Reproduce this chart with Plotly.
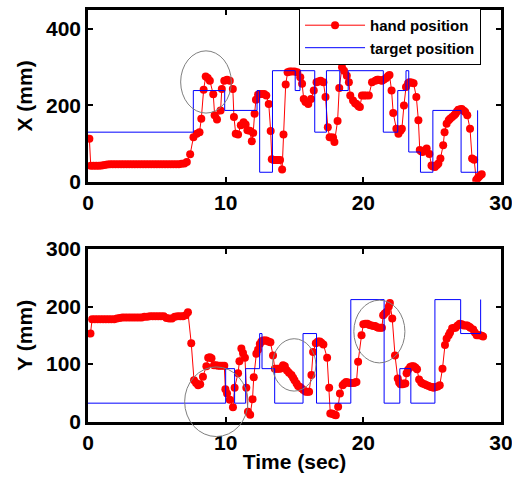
import plotly.graph_objects as go

# ---------------- data ----------------
hand_t_x = [0.1, 0.2, 0.4, 0.6, 0.8, 1.0, 1.2, 1.4, 1.6, 1.8, 2.0, 2.2, 2.4, 2.6, 2.8, 3.0, 3.2, 3.4, 3.6, 3.8,
            4.0, 4.2, 4.4, 4.6, 4.8, 5.0, 5.2, 5.4, 5.6, 5.8, 6.0, 6.2, 6.4, 6.6, 6.8, 7.0, 7.18, 7.42, 7.66, 7.9,
            8.1, 8.23, 8.4, 8.55, 8.7, 8.85, 9.1, 9.2, 9.37, 9.63, 9.72, 9.9, 10.1, 10.3, 10.52, 10.6, 10.73, 10.9, 11.1, 11.3,
            11.45, 11.58, 11.75, 11.9, 12.0, 12.1, 12.2, 12.35, 12.5, 12.65, 12.8, 12.95, 13.13, 13.27, 13.35, 13.5, 13.65, 13.8, 13.95, 14.1,
            14.2, 14.36, 14.5, 14.65, 14.8, 15.0, 15.2, 15.42, 15.55, 15.67, 15.8, 16.0, 16.2, 16.4, 16.6, 16.75, 16.9, 17.1, 17.25, 17.42,
            17.55, 17.7, 17.8, 17.9, 18.13, 18.25, 18.45, 18.6, 18.8, 18.95, 19.05, 19.25, 19.4, 19.5, 19.65, 19.75, 19.9, 20.05, 20.2, 20.4,
            20.63, 20.87, 21.0, 21.1, 21.25, 21.35, 21.5, 21.67, 21.8, 21.9, 22.05, 22.17, 22.4, 22.55, 22.7, 22.8, 22.95, 23.1, 23.25, 23.35,
            23.5, 23.65, 23.85, 24.0, 24.1, 24.2, 24.3, 24.45, 24.6, 24.8, 24.95, 25.05, 25.2, 25.35, 25.45, 25.6, 25.8, 25.9, 26.05, 26.2,
            26.3, 26.45, 26.6, 26.7, 26.8, 26.9, 27.05, 27.15, 27.3, 27.4, 27.55, 27.75, 27.9, 28.05, 28.2, 28.3, 28.4, 28.5, 28.6]
hand_x = [113, 42, 42, 42, 42, 43, 44, 45, 46, 46, 46, 46, 46, 46, 46, 46, 46, 46, 46, 46,
          46, 46, 46, 46, 46, 46, 46, 46, 46, 46, 46, 46, 46, 46, 47, 48, 52, 72, 117, 126,
          130, 165, 241, 276, 272, 265, 229, 174, 163, 187, 243, 265, 267, 265, 243, 170, 126, 124, 148, 156,
          150, 135, 134, 106, 128, 178, 215, 228, 230, 230, 230, 226, 204, 133, 59, 57, 57, 57, 57, 32,
          124, 255, 287, 289, 289, 289, 287, 274, 257, 217, 209, 204, 217, 239, 261, 263, 265, 261, 222, 143,
          117, 116, 116, 104, 159, 246, 300, 291, 278, 261, 226, 213, 206, 204, 198, 196, 226, 226, 226, 226,
          261, 265, 267, 267, 266, 265, 268, 272, 277, 280, 239, 180, 139, 126, 134, 139, 200, 248, 258, 261,
          260, 258, 222, 161, 83, 80, 78, 82, 87, 73, 43, 40, 39, 44, 48, 61, 96, 130, 152, 161,
          165, 170, 174, 178, 184, 189, 190, 191, 186, 183, 174, 139, 61, 58, 5, 9, 13, 17, 20]

hand_t_y = [0.18, 0.3, 0.5, 0.7, 0.9, 1.1, 1.3, 1.5, 1.7, 1.9, 2.1, 2.3, 2.5, 2.7, 2.9, 3.1, 3.3, 3.5, 3.7, 3.9,
            4.1, 4.3, 4.5, 4.7, 4.9, 5.1, 5.3, 5.5, 5.7, 5.9, 6.1, 6.3, 6.5, 6.7, 6.9, 7.1, 7.26, 7.5, 7.7, 7.85,
            8.0, 8.15, 8.35, 8.6, 8.73, 8.85, 8.97, 9.15, 9.3, 9.45, 9.6, 9.75, 9.9, 9.98, 10.1, 10.3, 10.53, 10.65, 10.9, 11.0,
            11.14, 11.26, 11.4, 11.5, 11.62, 11.78, 11.95, 12.04, 12.23, 12.35, 12.48, 12.6, 12.72, 12.84, 12.95, 13.1, 13.25, 13.44, 13.57, 13.7,
            13.82, 13.95, 14.05, 14.17, 14.3, 14.45, 14.6, 14.78, 14.9, 15.0, 15.15, 15.26, 15.4, 15.5, 15.65, 15.82, 15.95, 16.06, 16.23, 16.35,
            16.55, 16.7, 16.84, 16.95, 17.1, 17.37, 17.52, 17.6, 17.7, 17.8, 17.9, 18.0, 18.17, 18.3, 18.5, 18.62, 18.75, 18.9, 19.0, 19.15,
            19.3, 19.4, 19.5, 19.62, 19.87, 20.0, 20.15, 20.3, 20.45, 20.6, 20.75, 20.85, 21.0, 21.1, 21.25, 21.35, 21.44, 21.55, 21.7, 21.85,
            21.93, 22.1, 22.3, 22.5, 22.6, 22.7, 22.85, 22.95, 23.05, 23.14, 23.25, 23.4, 23.52, 23.65, 23.78, 23.9, 24.05, 24.2, 24.3, 24.45,
            24.6, 24.75, 24.9, 25.0, 25.1, 25.25, 25.4, 25.55, 25.75, 25.93, 26.05, 26.2, 26.3, 26.45, 26.6, 26.7, 26.85, 27.0, 27.15, 27.3,
            27.45, 27.55, 27.7, 27.78, 27.98, 28.1, 28.23, 28.35, 28.47, 28.6, 28.7]
hand_y = [153, 178, 178, 178, 178, 178, 178, 178, 178, 178, 179, 180, 181, 181, 181, 181, 181, 181, 181, 181,
          182, 182, 183, 183, 183, 183, 183, 183, 180, 179, 179, 182, 183, 183, 183, 185, 190, 136, 72, 67,
          63, 65, 78, 96, 111, 112, 110, 98, 98, 97, 97, 97, 97, 56, 49, 38, 25, 59, 84, 105,
          127, 119, 111, 59, 17, 12, 39, 77, 118, 125, 135, 139, 141, 141, 141, 139, 138, 115, 92, 92,
          92, 92, 93, 98, 96, 89, 85, 81, 76, 72, 66, 62, 60, 58, 55, 52, 52, 52, 81, 121,
          136, 139, 139, 137, 134, 111, 59, 14, 14, 13, 12, 11, 26, 49, 63, 66, 69, 68, 67, 67,
          67, 68, 69, 104, 150, 169, 170, 170, 168, 167, 166, 166, 164, 163, 163, 163, 185, 188, 191, 200,
          206, 179, 115, 75, 68, 65, 65, 66, 66, 84, 90, 95, 96, 96, 94, 91, 73, 68, 66, 65,
          63, 62, 60, 60, 59, 60, 61, 63, 92, 133, 144, 150, 155, 162, 163, 163, 167, 170, 169, 167,
          167, 167, 165, 163, 160, 155, 150, 150, 150, 149, 148]

target_t_x = [0, 7.65, 9.93, 12.28, 12.47, 13.4, 15.05, 15.4, 16.47, 17.32, 18.29, 18.9, 21.45, 22.5, 23.1, 23.3,
              24.15, 25.05, 27.1, 28.3, 28.31]
target_x = [130, 239, 187, 239, 25, 291, 239, 291, 130, 291, 239, 291, 130, 239, 291, 78,
            25, 187, 25, 187, 187]

target_t_y = [0, 10.0, 10.65, 11.45, 12.47, 12.64, 13.56, 15.62, 16.6, 19.09, 21.51, 22.65, 23.45, 25.2,
              27.07, 28.52, 28.53]
target_y = [32, 92, 32, 92, 153, 92, 32, 153, 32, 212, 32, 92, 32, 212,
            153, 212, 212]

# highlight ellipses: (t0, t1, v0, v1, panel)
ellipses = [(6.73, 10.41, 180, 343, "top"),
            (7.02, 11.62, -26, 95, "bottom"),
            (13.4, 16.55, 53, 144, "bottom"),
            (19.31, 23.02, 102, 211, "bottom")]

x_ticks = [0, 10, 20, 30]
x_range = [0, 30]
top_range = [0, 450]
top_ticks = [0, 200, 400]
bot_range = [0, 300]
bot_ticks = [0, 100, 200, 300]

# ---------------- figure ----------------
FONT = "Liberation Sans"
top_dom = [0.583, 1.0]
bot_dom = [0.001, 0.42]

fig = go.Figure()
fig.add_trace(go.Scatter(x=hand_t_x, y=hand_x, mode="lines+markers", name="hand position",
                         line=dict(color="red", width=1), marker=dict(color="red", size=8),
                         xaxis="x", yaxis="y"))
fig.add_trace(go.Scatter(x=target_t_x, y=target_x, mode="lines", name="target position",
                         line=dict(color="blue", width=1, shape="hv"), xaxis="x", yaxis="y"))
fig.add_trace(go.Scatter(x=hand_t_y, y=hand_y, mode="lines+markers", showlegend=False,
                         line=dict(color="red", width=1), marker=dict(color="red", size=8),
                         xaxis="x2", yaxis="y2"))
fig.add_trace(go.Scatter(x=target_t_y, y=target_y, mode="lines", showlegend=False,
                         line=dict(color="blue", width=1, shape="hv"), xaxis="x2", yaxis="y2"))

tickfont = dict(family=FONT, size=21, color="black", weight="bold")
common = dict(showline=True, linecolor="black", linewidth=2.5, mirror="ticks", ticks="inside",
              ticklen=5, tickwidth=1.5, tickcolor="black", showgrid=False, zeroline=False,
              tickfont=tickfont, automargin=False, ticklabeloverflow="allow")

shapes = []
for t0, t1, v0, v1, panel in ellipses:
    dom, rng = (top_dom, top_range) if panel == "top" else (bot_dom, bot_range)
    def py(v):
        return dom[0] + (v - rng[0]) / (rng[1] - rng[0]) * (dom[1] - dom[0])
    shapes.append(dict(type="circle", xref="paper", yref="paper",
                       x0=(t0 - x_range[0]) / (x_range[1] - x_range[0]),
                       x1=(t1 - x_range[0]) / (x_range[1] - x_range[0]),
                       y0=py(v0), y1=py(v1),
                       line=dict(color="#7f7f7f", width=1), layer="above"))

fig.update_layout(
    width=512, height=480,
    margin=dict(l=88, r=11, t=10, b=58, autoexpand=False),
    paper_bgcolor="white", plot_bgcolor="white",
    font=dict(family=FONT, color="black"),
    xaxis=dict(domain=[0, 1], range=x_range, tickvals=x_ticks, anchor="y", **common),
    yaxis=dict(domain=top_dom, range=top_range, tickvals=top_ticks, anchor="x",
               title=dict(text="X (mm)", font=dict(family=FONT, size=21, weight="bold"), standoff=8),
               **common),
    xaxis2=dict(domain=[0, 1], range=x_range, tickvals=x_ticks, anchor="y2",
                title=dict(text="Time (sec)", font=dict(family=FONT, size=21, weight="bold"), standoff=2),
                **common),
    yaxis2=dict(domain=bot_dom, range=bot_range, tickvals=bot_ticks, anchor="x2",
                title=dict(text="Y (mm)", font=dict(family=FONT, size=21, weight="bold"), standoff=8),
                **common),
    legend=dict(x=0.511, y=1.005, xanchor="left", yanchor="top", bgcolor="white",
                bordercolor="black", borderwidth=1, itemwidth=60,
                entrywidth=160, entrywidthmode="pixels",
                font=dict(family=FONT, size=15, weight="bold", color="black")),
    shapes=shapes,
)

fig.write_html("out.html", config={"displayModeBar": False},
               post_script="document.body.style.margin='0px';document.body.style.overflow='hidden';")
